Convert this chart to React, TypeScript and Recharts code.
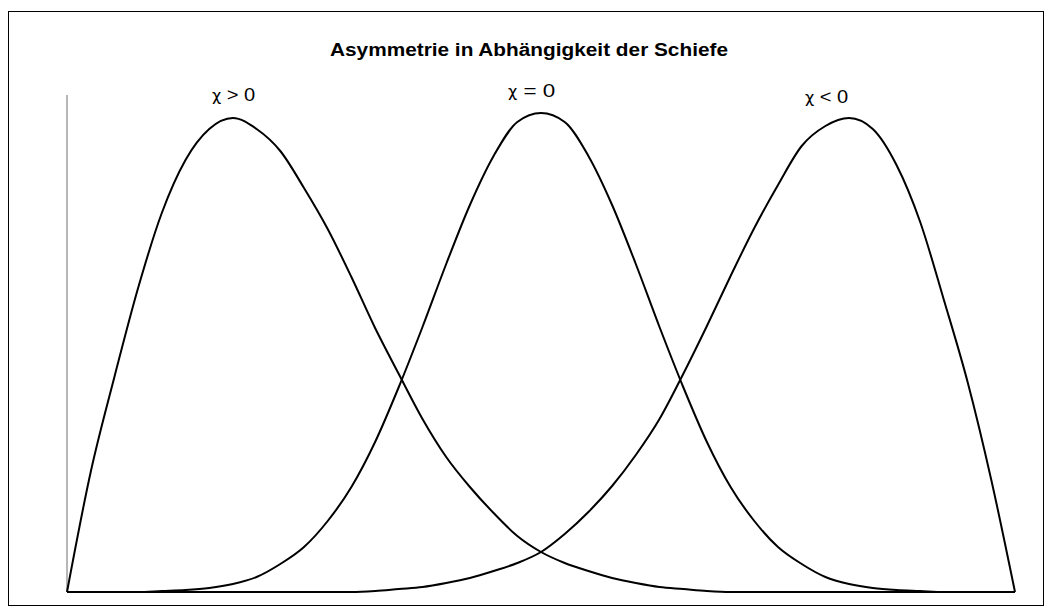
import { Line, LineChart, ReferenceLine, XAxis, YAxis } from "recharts";

// x positions (equal steps across the axis)
const xs = [
  0, 1, 2, 3, 4, 5, 6, 7, 8, 9, 10, 11, 12, 13, 14, 15, 16, 17, 18, 19, 20,
  21, 22, 23, 24, 25, 26, 27, 28, 29, 30, 31, 32, 33, 34, 35, 36, 37, 38, 39, 40,
];

// chi > 0 (right-skewed)
const positive = [
  0, 120, 215, 304, 379, 432, 463, 474, 463, 441, 404, 363, 315, 264, 218, 173, 135, 105, 79, 56, 40,
  29, 21, 14, 9, 5, 3, 1, 0, 0, 0, 0, 0, 0, 0, 0, 0, 0, 0, 0, 0,
];

// chi = 0 (symmetric)
const symmetric = [
  0, 0, 0, 0, 1, 2, 4, 8, 15, 28, 45, 71, 105, 150, 205, 265, 328, 387, 436, 470, 479,
  470, 436, 387, 328, 265, 205, 150, 105, 71, 45, 28, 15, 8, 4, 2, 1, 0, 0, 0, 0,
];

// chi < 0 (left-skewed)
const negative = [
  0, 0, 0, 0, 0, 0, 0, 0, 0, 0, 0, 0, 0, 1, 3, 5, 9, 14, 21, 29, 40,
  58, 80, 106, 137, 173, 218, 266, 316, 364, 407, 446, 466, 474, 463, 427, 370, 292, 210, 112, 0,
];

const labels = [" > 0", " = 0", " < 0"];
const title = "Asymmetrie in Abhängigkeit der Schiefe";

const data = xs.map((x, i) => ({ x, pos: positive[i], sym: symmetric[i], neg: negative[i] }));

const font = "'Liberation Sans', Arial, sans-serif";

function Tag({ x, y, w, rest }: { x: number; y: number; w: number; rest: string }) {
  return (
    <text x={x} y={y} fontFamily={font} fontSize={18} fill="#000">
      <tspan fontFamily="'DejaVu Sans', sans-serif" fontSize={16}>
        {"\u03c7"}
      </tspan>
      <tspan textLength={w} lengthAdjust="spacingAndGlyphs">{rest}</tspan>
    </text>
  );
}

export default function App() {
  return (
    <div style={{ position: "absolute", left: 0, top: 0, width: 1050, height: 612, background: "#fff" }}>
      <div
        style={{
          position: "absolute",
          left: 8,
          top: 11,
          width: 1034,
          height: 593,
          border: "1px solid #000",
        }}
      />
      <LineChart
        width={1050}
        height={612}
        data={data}
        margin={{ top: 95, right: 35, bottom: 20, left: 67 }}
        style={{ position: "absolute", left: 0, top: 0 }}
      >
        <XAxis
          dataKey="x"
          type="number"
          domain={[0, 40]}
          height={0}
          tick={false}
          tickLine={false}
          axisLine={{ stroke: "#000", strokeWidth: 1.2 }}
        />
        <YAxis domain={[0, 497]} width={0} tick={false} tickLine={false} axisLine={false} />
        <ReferenceLine x={0} stroke="#6e6e6e" strokeWidth={1} />
        <Line type="monotone" dataKey="pos" stroke="#000" strokeWidth={2} dot={false} isAnimationActive={false} />
        <Line type="monotone" dataKey="sym" stroke="#000" strokeWidth={2} dot={false} isAnimationActive={false} />
        <Line type="monotone" dataKey="neg" stroke="#000" strokeWidth={2} dot={false} isAnimationActive={false} />
      </LineChart>
      <svg
        width={1050}
        height={612}
        style={{ position: "absolute", left: 0, top: 0, pointerEvents: "none" }}
      >
        <text
          x={330}
          y={56}
          fontFamily={font}
          fontWeight="bold"
          fontSize={18}
          textLength={398}
          lengthAdjust="spacingAndGlyphs"
          fill="#000"
        >
          {title}
        </text>
        <Tag x={212} y={101} w={34} rest={labels[0]} />
        <Tag x={508} y={97} w={38} rest={labels[1]} />
        <Tag x={805} y={103} w={34} rest={labels[2]} />
      </svg>
    </div>
  );
}
